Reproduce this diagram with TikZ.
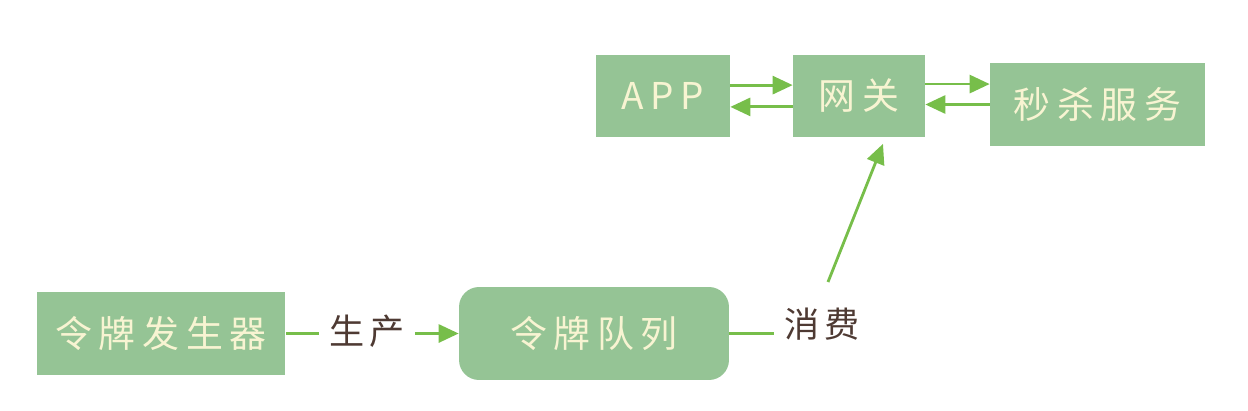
\documentclass[tikz,border=0pt]{standalone}
\usepackage{fontspec}
\usepackage{tikz}
\usetikzlibrary{arrows.meta}
\newfontfamily\cjk[LetterSpace=18]{Noto Sans CJK SC}
\newfontfamily\cjklbl[LetterSpace=14]{Noto Sans CJK SC}
\definecolor{boxgreen}{HTML}{95C495}
\definecolor{cream}{HTML}{F8F4D2}
\definecolor{arrgreen}{HTML}{77BE4A}
\definecolor{lblbrown}{HTML}{4E3A33}
\tikzset{
  blk/.style={fill=boxgreen, draw=none, text=cream, font=\cjk\fontsize{21}{24}\selectfont},
  lbl/.style={text=lblbrown, font=\cjklbl\fontsize{20}{24}\selectfont, inner sep=0.2cm},
  flow/.style={draw=arrgreen, line width=1.6pt, -{Triangle[length=0.4cm, width=0.36cm]}},
  plain/.style={draw=arrgreen, line width=1.6pt}
}

\begin{document}
\begin{tikzpicture}[x=0.02cm, y=-0.02cm]
\useasboundingbox (0,0) rectangle (1248,410);
\node[blk, minimum width=2.68cm, minimum height=1.66cm] (app) at (663,96) {APP};
\node[blk, minimum width=2.64cm, minimum height=1.66cm] (gw) at (859,96) {网关};
\node[blk, minimum width=4.3cm, minimum height=1.66cm] (ms) at (1097.5,104.5) {秒杀服务};
\node[blk, minimum width=4.98cm, minimum height=1.66cm] (gen) at (161,333.5) {令牌发生器};
\node[blk, rounded corners=0.4cm, minimum width=5.4cm, minimum height=1.86cm] (queue) at (594,333.5) {令牌队列};
\node[lbl] (produce) at (367,331) {生产};
\node[lbl] (consume) at (822,324) {消费};
\coordinate (uptail) at (828,282);
\draw[flow] ([yshift=6.2pt]app.east) -- ([yshift=6.2pt]gw.west);
\draw[flow] ([yshift=-6.2pt]gw.west) -- ([yshift=-6.2pt]app.east);
\draw[flow] ([yshift=6.8pt]gw.east) -- ([yshift=6.8pt]gw.east -| ms.west);
\draw[flow] (ms.west) -- (ms.west -| gw.east);
\draw[plain] (gen.east) -- (gen.east -| produce.west);
\draw[flow] (produce.east |- queue.west) -- (queue.west);
\draw[plain] (queue.east) -- (queue.east -| consume.west);
\draw[flow] (uptail) -- ([shift={(24,6)}]gw.south);
\end{tikzpicture}
\end{document}
